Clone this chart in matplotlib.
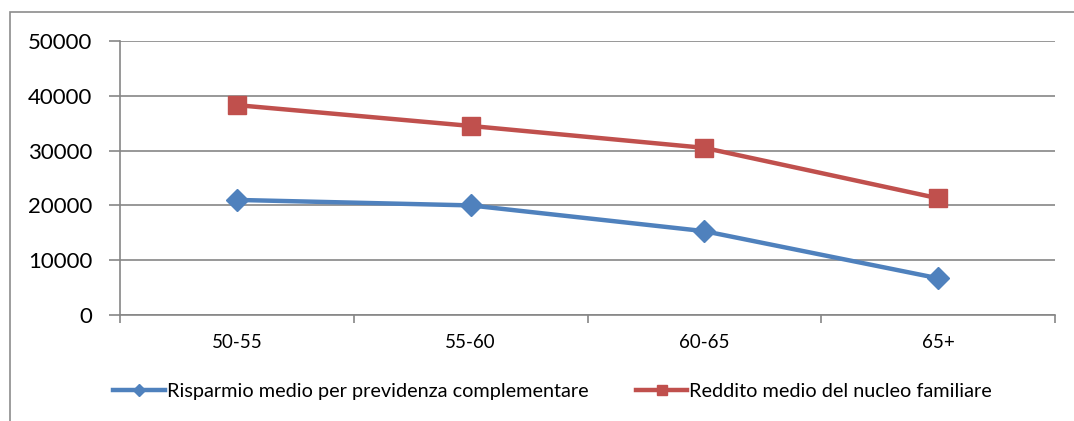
import matplotlib.pyplot as plt
from matplotlib.patches import Rectangle

# Age classes and the two series
categories = ["50-55", "55-60", "60-65", "65+"]
risparmio = [21000, 20000, 15300, 6700]
reddito = [38300, 34500, 30500, 21300]
y_ticks = [0, 10000, 20000, 30000, 40000, 50000]

blue = "#4F81BD"
red = "#C0504D"
grid_gray = "#868686"

plt.rcParams["font.family"] = ["Lato", "DejaVu Sans"]

fig = plt.figure(figsize=(10.74, 4.21), dpi=100)
fig.patches.append(Rectangle((10 / 1074, -0.1), 1.2, (421 - 12) / 421 + 0.1,
                             transform=fig.transFigure, fill=False,
                             edgecolor="#8c8c8c", linewidth=1.2))

ax = fig.add_axes([120 / 1074, (421 - 315) / 421, 935 / 1074, 274 / 421])

x = range(len(categories))
ax.plot(x, risparmio, color=blue, linewidth=3.2, marker="D", markersize=11,
        label="Risparmio medio per previdenza complementare", zorder=3)
ax.plot(x, reddito, color=red, linewidth=3.2, marker="s", markersize=13,
        label="Reddito medio del nucleo familiare", zorder=3)

ax.set_xlim(-0.5, len(categories) - 0.5)
ax.set_ylim(0, 50000)
ax.set_yticks(y_ticks)
ax.set_yticklabels([str(v) for v in y_ticks], fontsize=16)
ax.set_xticks(list(x))
ax.set_xticklabels(categories, fontsize=13.5)
ax.set_xticks([i - 0.5 for i in range(len(categories) + 1)], minor=True)
ax.tick_params(axis="x", which="major", length=0, pad=14)
ax.tick_params(axis="x", which="minor", length=6, color=grid_gray, width=1.2)
ax.tick_params(axis="y", length=8, color=grid_gray, width=1.2, pad=12)

ax.grid(axis="y", color=grid_gray, linewidth=1.2)
ax.set_axisbelow(True)
for side in ["top", "right"]:
    ax.spines[side].set_visible(False)
for side in ["left", "bottom"]:
    ax.spines[side].set_color(grid_gray)
    ax.spines[side].set_linewidth(1.2)

ax.legend(loc="center", bbox_to_anchor=(0.4626, -0.28), ncol=2, frameon=False,
          fontsize=14.3, handlelength=2.6, handletextpad=0.1, columnspacing=2.4,
          markerscale=0.6)

fig.savefig("out.png", dpi=100)
